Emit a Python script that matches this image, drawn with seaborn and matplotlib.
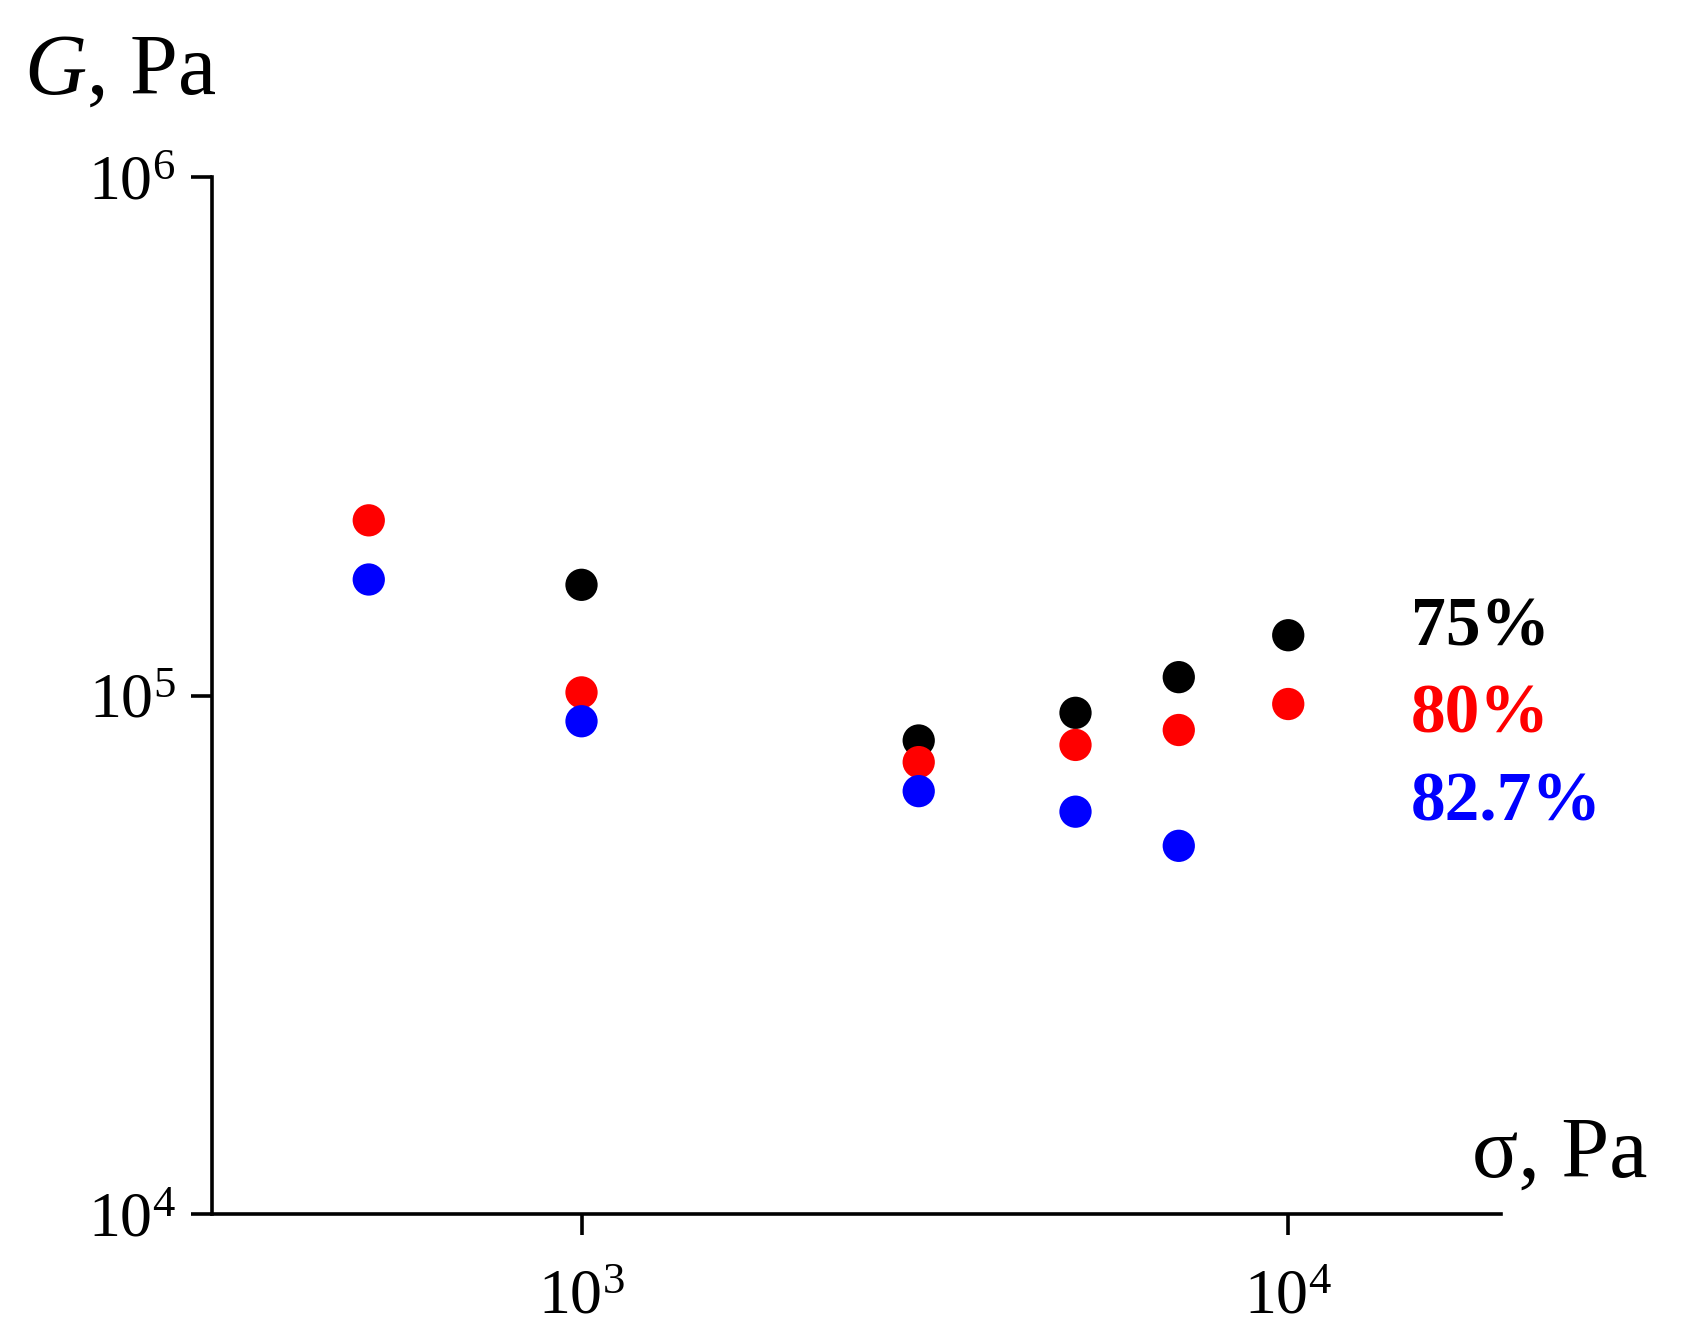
import pandas as pd
import seaborn as sns
import matplotlib.pyplot as plt
from matplotlib.ticker import NullLocator, FixedLocator

# === Data ===
series_names = ["75%", "80%", "82.7%"]
series_colors = ["#000000", "#FF0000", "#0000FF"]

sigma_75 = [1000, 3000, 5000, 7000, 10000]
G_75 = [163500, 81900, 92600, 108500, 130700]

sigma_80 = [500, 1000, 3000, 5000, 7000, 10000]
G_80 = [217700, 101400, 74400, 80300, 85800, 96300]

sigma_827 = [500, 1000, 3000, 5000, 7000]
G_827 = [167400, 89200, 65400, 59700, 51300]

x_ticks = [1e3, 1e4]
x_tick_labels = ["$10^{3}$", "$10^{4}$"]
y_ticks = [1e4, 1e5, 1e6]
y_tick_labels = ["$10^{4}$", "$10^{5}$", "$10^{6}$"]

# === Long table for seaborn ===
frames = []
for name, xs, ys in zip(series_names, [sigma_75, sigma_80, sigma_827], [G_75, G_80, G_827]):
    frames.append(pd.DataFrame({"sigma": xs, "G": ys, "series": name}))
df = pd.concat(frames, ignore_index=True)

# === Style ===
sns.set_style("ticks")
plt.rcParams["font.family"] = ["Liberation Serif", "DejaVu Serif"]
plt.rcParams["mathtext.fontset"] = "custom"
plt.rcParams["mathtext.rm"] = "Liberation Serif"
plt.rcParams["mathtext.it"] = "Liberation Serif:italic"
plt.rcParams["text.color"] = "black"
plt.rcParams["xtick.color"] = "black"
plt.rcParams["ytick.color"] = "black"

fig = plt.figure(figsize=(16.85, 13.36), dpi=100)
ax = fig.add_axes([0.1258, 0.0913, 0.765, 0.7762])

sns.scatterplot(data=df, x="sigma", y="G", hue="series", hue_order=series_names,
                palette=series_colors, s=540, edgecolor="none", legend=False, ax=ax)

ax.set_xscale("log")
ax.set_yscale("log")
ax.set_xlim(300, 20000)
ax.set_ylim(1e4, 1e6)

ax.xaxis.set_major_locator(FixedLocator(x_ticks))
ax.yaxis.set_major_locator(FixedLocator(y_ticks))
ax.set_xticklabels(x_tick_labels)
ax.set_yticklabels(y_tick_labels)
ax.xaxis.set_minor_locator(NullLocator())
ax.yaxis.set_minor_locator(NullLocator())

ax.tick_params(axis="both", which="major", direction="out", length=15, width=2.6,
               labelsize=46, colors="black", labelcolor="black")
ax.tick_params(axis="x", pad=25)
ax.tick_params(axis="y", pad=11)
for side in ["top", "right"]:
    ax.spines[side].set_visible(False)
for side in ["left", "bottom"]:
    ax.spines[side].set_linewidth(2.6)
    ax.spines[side].set_color("black")

ax.set_xlabel("")
ax.set_ylabel("")

# axis titles placed like the original
fig.text(0.014, 0.930, "$G$, Pa", fontsize=62, va="baseline", ha="left", color="black")
fig.text(0.8736, 0.1195, "σ, Pa", fontsize=62, va="baseline", ha="left", color="black")

# series labels
for name, color, ypos in zip(series_names, series_colors, [0.565, 0.481, 0.396]):
    ax.text(0.930, ypos, name, transform=ax.transAxes, color=color, fontsize=50,
            fontweight="bold", va="center", ha="left", clip_on=False)

fig.savefig("out.png", dpi=100)
